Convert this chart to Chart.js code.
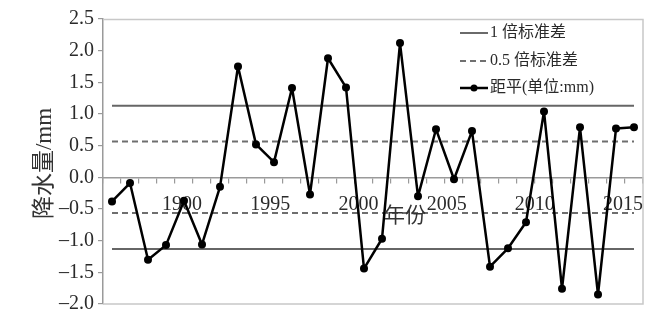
<!DOCTYPE html>
<html><head><meta charset="utf-8">
<script src="https://cdn.jsdelivr.net/npm/chart.js@4.4.0/dist/chart.umd.min.js"></script>
<style>html,body{margin:0;padding:0;background:#fff;}#wrap{width:661px;height:326px;position:relative;}</style>
</head><body><div id="wrap"><canvas id="c" width="661" height="326"></canvas></div>
<script>
const years = [1986,1987,1988,1989,1990,1991,1992,1993,1994,1995,1996,1997,1998,1999,2000,2001,2002,2003,2004,2005,2006,2007,2008,2009,2010,2011,2012,2013,2014,2015];
const anomaly = [-0.38,-0.09,-1.30,-1.07,-0.37,-1.06,-0.15,1.75,0.52,0.24,1.41,-0.27,1.88,1.42,-1.44,-0.97,2.12,-0.30,0.76,-0.03,0.73,-1.41,-1.12,-0.71,1.04,-1.76,0.79,-1.85,0.77,0.79];
const stdOne = 1.13;
const stdHalf = 0.565;
const tickYears = [1990,1995,2000,2005,2010,2015];
const tickLabels = ['1900','1995','2000','2005','2010','2015'];
const yTicks = [2.5,2.0,1.5,1.0,0.5,0.0,-0.5,-1.0,-1.5,-2.0];
const legendLabels = ['1 倍标准差','0.5 倍标准差','距平(单位:mm)'];
const yTitle = '降水量/mm';
const xTitle = '年份';

const serif = '"Liberation Serif", "Noto Sans CJK SC", serif';
const txt = '#2a2a2a';

const extras = {
  id: 'extras',
  beforeDatasetsDraw(chart) {
    const {ctx, chartArea: a} = chart;
    ctx.save();
    ctx.strokeStyle = '#c8c8c8';
    ctx.lineWidth = 1.5;
    ctx.beginPath();
    ctx.moveTo(a.left, a.top + 0.5); ctx.lineTo(a.right, a.top + 0.5);
    ctx.lineTo(a.right, a.bottom); ctx.lineTo(a.left, a.bottom);
    ctx.stroke();
    ctx.restore();
  },
  afterDraw(chart) {
    const {ctx, chartArea: a} = chart;
    ctx.save();
    ctx.fillStyle = '#333';
    ctx.font = '23px ' + serif;
    ctx.textAlign = 'center'; ctx.textBaseline = 'middle';
    ctx.translate(45, (a.top + a.bottom) / 2 + 2);
    ctx.rotate(-Math.PI / 2);
    ctx.fillText(yTitle, 0, 0);
    ctx.restore();
    ctx.save();
    ctx.fillStyle = '#333';
    ctx.font = '21px "Noto Sans CJK SC", sans-serif';
    ctx.textAlign = 'center'; ctx.textBaseline = 'middle';
    ctx.fillText(xTitle, 405, 214);
    const lx0 = 460, lx1 = 488, rows = [33, 61, 88];
    ctx.font = '16px ' + serif;
    ctx.textAlign = 'left';
    ctx.fillStyle = txt;
    ctx.strokeStyle = '#6a6a6a'; ctx.lineWidth = 2;
    ctx.beginPath(); ctx.moveTo(lx0, rows[0]); ctx.lineTo(lx1, rows[0]); ctx.stroke();
    ctx.fillText(legendLabels[0], lx1 + 2, rows[0]);
    ctx.setLineDash([6, 4]);
    ctx.strokeStyle = '#707070';
    ctx.beginPath(); ctx.moveTo(lx0, rows[1]); ctx.lineTo(lx1, rows[1]); ctx.stroke();
    ctx.setLineDash([]);
    ctx.fillText(legendLabels[1], lx1 + 2, rows[1]);
    ctx.strokeStyle = '#000'; ctx.lineWidth = 2.5;
    ctx.beginPath(); ctx.moveTo(lx0, rows[2]); ctx.lineTo(lx1, rows[2]); ctx.stroke();
    ctx.fillStyle = '#000';
    ctx.beginPath(); ctx.arc((lx0 + lx1) / 2, rows[2], 3.5, 0, Math.PI * 2); ctx.fill();
    ctx.fillStyle = txt;
    ctx.fillText(legendLabels[2], lx1 + 2, rows[2]);
    ctx.restore();
  }
};

new Chart(document.getElementById('c'), {
  type: 'line',
  data: {
    labels: years,
    datasets: [
      { label: legendLabels[0], data: years.map(() => stdOne), borderColor: '#666', borderWidth: 2, pointRadius: 0, order: 3 },
      { label: legendLabels[0], data: years.map(() => -stdOne), borderColor: '#666', borderWidth: 2, pointRadius: 0, order: 3 },
      { label: legendLabels[1], data: years.map(() => stdHalf), borderColor: '#6e6e6e', borderDash: [6, 4], borderWidth: 2, pointRadius: 0, order: 3 },
      { label: legendLabels[1], data: years.map(() => -stdHalf), borderColor: '#6e6e6e', borderDash: [6, 4], borderWidth: 2, pointRadius: 0, order: 3 },
      { label: legendLabels[2], data: anomaly, borderColor: '#000', backgroundColor: '#000', borderWidth: 2.5, borderJoinStyle: 'round', pointRadius: 4, pointBackgroundColor: '#000', pointBorderWidth: 0, tension: 0, order: 1 }
    ]
  },
  options: {
    responsive: false,
    animation: false,
    events: [],
    layout: { padding: { left: 0, right: 18, top: 19, bottom: 22 } },
    plugins: { legend: { display: false }, tooltip: { enabled: false } },
    scales: {
      x: {
        type: 'category',
        position: { y: 0 },
        offset: true,
        grid: { offset: true, drawOnChartArea: false, drawTicks: true, tickLength: 5, color: '#9a9a9a', lineWidth: 1.2 },
        border: { display: true, color: '#9a9a9a', width: 1.5 },
        ticks: { display: false }
      },
      xl: {
        type: 'linear',
        axis: 'x',
        position: { y: 0 },
        min: 1985.52,
        max: 2016.13,
        afterBuildTicks: (s) => { s.ticks = tickYears.map(v => ({ value: v })); },
        grid: { display: false, drawTicks: false },
        border: { display: false },
        ticks: {
          autoSkip: false, maxRotation: 0, padding: 15,
          color: txt, font: { family: serif, size: 20 },
          callback: (v) => { const i = tickYears.indexOf(v); return i >= 0 ? tickLabels[i] : ''; }
        }
      },
      y: {
        min: -2, max: 2.5,
        afterBuildTicks: (s) => { s.ticks = yTicks.map(v => ({ value: v })); },
        afterFit: (s) => { s.width = 103; },
        grid: { drawOnChartArea: false, drawTicks: true, tickLength: 5, color: '#9a9a9a', lineWidth: 1.2 },
        border: { display: true, color: '#9a9a9a', width: 1.5 },
        ticks: {
          padding: 4, color: txt, font: { family: serif, size: 20 },
          callback: (v) => (v < 0 ? '\u2013' + Math.abs(v).toFixed(1) : v.toFixed(1))
        }
      }
    }
  },
  plugins: [extras]
});
</script></body></html>
